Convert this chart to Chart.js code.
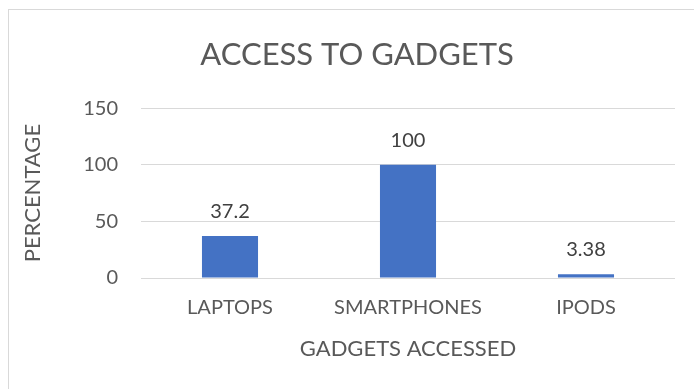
<!DOCTYPE html>
<html>
<head>
<meta charset="utf-8">
<script src="https://cdn.jsdelivr.net/npm/chart.js@4/dist/chart.umd.min.js"></script>
<style>
  html, body { margin: 0; padding: 0; background: #fff; }
  #wrap { position: relative; width: 694px; height: 389px; overflow: hidden; }
  #frame { position: absolute; left: 8px; top: 9px; width: 700px; height: 400px;
           border-left: 1px solid #d9d9d9; border-top: 1px solid #d9d9d9; pointer-events: none; }
</style>
</head>
<body>
<div id="wrap">
  <canvas id="chart" width="694" height="389"></canvas>
  <div id="frame"></div>
</div>
<script>
/* ── DATA ── */
var categories = ['LAPTOPS', 'SMARTPHONES', 'IPODS'];
var percentages = [37.2, 100, 3.38];
var yTicks = [0, 50, 100, 150];

var FONT = 'Lato, "Open Sans", sans-serif';
var TEXT = '#595959';

/* value labels above each bar */
var barLabels = {
  id: 'barLabels',
  afterDatasetsDraw: function (chart) {
    var ctx = chart.ctx;
    var meta = chart.getDatasetMeta(0);
    ctx.save();
    ctx.font = '20px ' + FONT;
    ctx.fillStyle = '#404040';
    ctx.textAlign = 'center';
    ctx.textBaseline = 'alphabetic';
    meta.data.forEach(function (bar, i) {
      ctx.fillText(String(percentages[i]), bar.x, bar.y - 18);
    });
    ctx.restore();
  }
};

new Chart(document.getElementById('chart'), {
  type: 'bar',
  data: {
    labels: categories,
    datasets: [{
      data: percentages,
      backgroundColor: '#4472c4',
      borderWidth: 0,
      categoryPercentage: 1,
      barPercentage: 0.315
    }]
  },
  options: {
    responsive: false,
    animation: false,
    devicePixelRatio: 1,
    // left padding shifts the chart title centre to match the original
    layout: { padding: { left: 39, right: 19, top: 0, bottom: 0 } },
    plugins: {
      legend: { display: false },
      tooltip: { enabled: false },
      title: {
        display: true,
        text: 'ACCESS TO GADGETS',
        color: TEXT,
        font: { family: FONT, size: 31, weight: 'normal' },
        padding: { top: 36, bottom: 35 }
      }
    },
    scales: {
      x: {
        grid: { display: false, drawTicks: false },
        border: { display: false },
        ticks: { color: TEXT, font: { family: FONT, size: 20 }, padding: 18, maxRotation: 0 },
        title: {
          display: true, text: 'GADGETS ACCESSED', color: TEXT,
          font: { family: FONT, size: 22 }, padding: { top: 0, bottom: 27 }
        },
        afterFit: function (s) { s.height = 111; }
      },
      y: {
        min: 0, max: 150,
        afterBuildTicks: function (s) { s.ticks = yTicks.map(function (v) { return { value: v }; }); },
        grid: { color: '#d9d9d9', lineWidth: 1, drawTicks: false },
        border: { display: false },
        ticks: { color: TEXT, font: { family: FONT, size: 20 }, padding: 23 },
        title: {
          display: true, text: 'PERCENTAGE', color: TEXT,
          font: { family: FONT, size: 22 }, padding: { top: -19, bottom: 0 }
        },
        afterFit: function (s) { s.width = 102; }
      }
    }
  },
  plugins: [barLabels]
});
</script>
</body>
</html>
